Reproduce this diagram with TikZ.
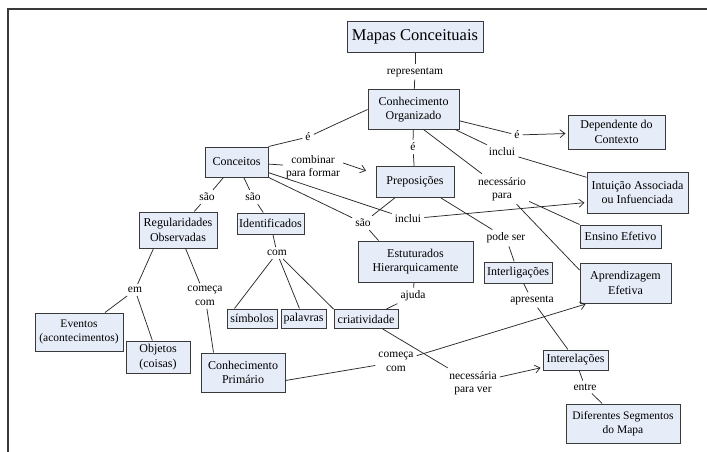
\documentclass[tikz,border=0pt]{standalone}
\usepackage{fontspec}
\setmainfont{Liberation Serif}
\usetikzlibrary{arrows.meta}
\definecolor{boxfill}{HTML}{E6ECF8}
\definecolor{boxline}{HTML}{3A3A3A}
\definecolor{linkc}{HTML}{2A2A2A}
\begin{document}
\begin{tikzpicture}[x=1pt,y=-1pt,
  box/.style={draw=boxline, fill=boxfill, line width=1pt, align=center, inner xsep=2pt, inner ysep=1pt, font=\fontsize{12}{14.3}\selectfont},
  smallbox/.style={box, inner xsep=0.5pt, font=\fontsize{11.5}{14.3}\selectfont},
  lab/.style={inner sep=3pt, align=center, font=\fontsize{11.5}{13.5}\selectfont},
  conn/.style={draw=linkc, line width=0.75pt},
  arr/.style={conn, -{Straight Barb[length=5pt,width=8pt]}, shorten >=2pt},
  frame/.style={draw=boxline, line width=1.8pt}
]
\useasboundingbox (0,0) rectangle (707,452);
\draw[frame] (8,452) -- (8,9) -- (707,9);

% boxes
\node[box, minimum width=136pt, minimum height=31pt, font=\fontsize{16.5}{18}\selectfont] (mapas) at (415,37) {Mapas Conceituais};
\node[box, minimum width=91pt, minimum height=39pt] (conhorg) at (413.5,109.5) {Conhecimento\\Organizado};
\node[box, minimum width=78pt, minimum height=31pt] (prep) at (415,182) {Preposições};
\node[box, minimum width=97pt, minimum height=34pt] (dep) at (616.5,132) {Dependente do\\Contexto};
\node[box, minimum width=101pt, minimum height=41pt] (intu) at (637.5,192.5) {Intuição Associada\\ou Infuenciada};
\node[box, minimum width=81pt, minimum height=23pt] (ensino) at (620.5,236.5) {Ensino Efetivo};
\node[box, minimum width=91pt, minimum height=40pt] (aprend) at (625.5,283) {Aprendizagem\\Efetiva};
\node[box, minimum width=63pt, minimum height=30pt] (conc) at (236.5,162) {Conceitos};
\node[box, minimum width=78pt, minimum height=36pt] (reg) at (178,230) {Regularidades\\Observadas};
\node[box, minimum width=67pt, minimum height=21pt] (ident) at (270.5,223.5) {Identificados};
\node[box, minimum width=115pt, minimum height=41pt] (estut) at (415.5,261.5) {Estuturados\\Hierarquicamente};
\node[box, minimum width=68pt, minimum height=21pt] (interlig) at (518,272.5) {Interligações};
\node[box, minimum width=50pt, minimum height=19pt] (simb) at (252,318.5) {símbolos};
\node[box, minimum width=45pt, minimum height=19pt] (palav) at (303.5,318.5) {palavras};
\node[box, minimum width=64pt, minimum height=19pt] (criat) at (366,319) {criatividade};
\node[smallbox, minimum width=88pt, minimum height=38pt] (event) at (79,332) {Eventos\\(acontecimentos)};
\node[box, minimum width=64pt, minimum height=32pt] (objet) at (158,357) {Objetos\\(coisas)};
\node[box, minimum width=84pt, minimum height=39pt] (cprim) at (243,372.5) {Conhecimento\\Primário};
\node[box, minimum width=65pt, minimum height=20pt] (interel) at (575.5,360) {Interelações};
\node[smallbox, minimum width=114pt, minimum height=39pt] (difer) at (623,423.5) {Diferentes Segmentos\\do Mapa};

% link labels
\node[lab] (lrep) at (415,72) {representam};
\node[lab] (leconc) at (308,137) {é};
\node[lab] (leprep) at (413,147) {é};
\node[lab] (ledep) at (517,135) {é};
\node[lab] (linc1) at (502,152) {inclui};
\node[lab] (lnec) at (502,189) {necessário\\para};
\node[lab] (lcomb) at (313,167) {combinar\\para formar};
\node[lab] (lsao1) at (207,197) {são};
\node[lab] (lsao2) at (253,197) {são};
\node[lab] (lsao3) at (363,223) {são};
\node[lab] (linc2) at (408,219) {inclui};
\node[lab] (lpode) at (506,238) {pode ser};
\node[lab] (lajuda) at (413,296) {ajuda};
\node[lab] (lapres) at (532,300) {apresenta};
\node[lab] (lentre) at (585,387) {entre};
\node[lab] (lcom) at (277,253) {com};
\node[lab] (lem) at (135,290) {em};
\node[lab] (lcomeca1) at (205,296) {começa\\com};
\node[lab] (lcomeca2) at (396,362) {começa\\com};
\node[lab] (lnecver) at (473,383) {necessária\\para ver};

% connectors
\draw[conn] (mapas) -- (lrep);
\draw[conn] (lrep) -- (conhorg);
\draw[conn] (conhorg.west) -- (leconc);
\draw[conn] (leconc) -- (conc.north east);
\draw[conn] (conhorg) -- (leprep);
\draw[conn] (leprep) -- (prep);
\draw[conn] (conhorg) -- (ledep);
\draw[arr] (ledep) -- (dep);
\draw[conn] (conhorg) -- (linc1);
\draw[conn] (linc1) -- (intu);
\draw[conn] ([xshift=10pt]conhorg.south) -- (lnec);
\draw[conn] (lnec) -- (ensino.north west);
\draw[conn] (lnec) -- ([yshift=13pt]aprend.west);
\draw[conn] (conc) -- (lcomb);
\draw[arr, shorten >=10pt] ([yshift=4pt]lcomb.east) -- ([yshift=8pt]prep.west);
\draw[conn] (conc) -- (lsao1);
\draw[conn] (lsao1) -- (reg);
\draw[conn] (conc) -- (lsao2);
\draw[conn] (lsao2) -- (ident);
\draw[conn] (conc) -- (lsao3);
\draw[conn] (prep) -- (lsao3);
\draw[conn] (lsao3) -- ([xshift=-37pt]estut.north);
\draw[conn] (conc) -- (linc2);
\draw[arr] (linc2) -- ([yshift=-10pt]intu.west);
\draw[conn] (prep) -- (lpode);
\draw[conn] (lpode) -- (interlig);
\draw[conn] (interlig) -- (lapres);
\draw[conn] (lapres) -- (interel);
\draw[conn] (interel) -- (lentre);
\draw[conn] (lentre) -- (difer);
\draw[conn] (estut) -- (lajuda);
\draw[conn] (lajuda) -- (criat);
\draw[conn] (ident) -- (lcom);
\draw[conn] (lcom) -- ([xshift=8pt]simb.north west);
\draw[conn] (lcom) -- (palav);
\draw[conn] (lcom) -- (criat.north west);
\draw[conn] ([xshift=15pt]reg.south west) -- (lem);
\draw[conn] (lem) -- (event);
\draw[conn] (lem) -- (objet);
\draw[conn] (reg) -- (lcomeca1);
\draw[conn] (lcomeca1) -- ([xshift=13pt]cprim.north west);
\draw[conn] ([yshift=-8pt]cprim.east) -- (lcomeca2);
\draw[arr] (lcomeca2) -- ([xshift=8pt]aprend.south west);
\draw[conn] (criat) -- (lnecver);
\draw[arr] (lnecver) -- (interel);
\end{tikzpicture}
\end{document}
